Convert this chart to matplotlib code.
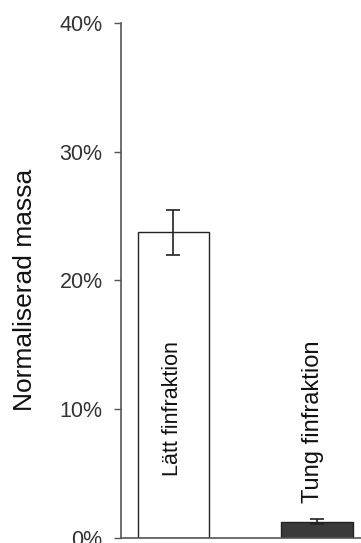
import numpy as np
import matplotlib
matplotlib.use("Agg")
import matplotlib.pyplot as plt
from matplotlib.ticker import PercentFormatter

plt.rcParams['font.family'] = ['Liberation Sans', 'DejaVu Sans']

categories = ["Lätt finfraktion", "Tung finfraktion"]
values = [23.75, 1.25]   # procent
errors = [1.75, 0.18]
yticks = [0, 10, 20, 30, 40]

fig = plt.figure(figsize=(3.61, 5.43), dpi=100)
ax = fig.add_axes([0.3343, 0.0098, 0.6657, 0.948])

x = np.arange(len(categories))
ax.bar(x, values, width=0.5, color=["white", "#3a3a3a"], edgecolor="#222222",
       linewidth=1.0)
ax.errorbar(x, values, yerr=errors, fmt="none", ecolor="#222222",
            elinewidth=1.2, capsize=5, capthick=1.2)

ax.set_xlim(-0.368, 1.307)
ax.set_ylim(0, 40)
ax.set_yticks(yticks)
ax.yaxis.set_major_formatter(PercentFormatter(decimals=0))
ax.tick_params(axis="y", direction="out", length=5, width=1, color="#555555",
               labelsize=15.5, labelcolor="#333333", pad=8)
ax.set_xticks([])

for s in ["top", "right"]:
    ax.spines[s].set_visible(False)
for s in ["left", "bottom"]:
    ax.spines[s].set_color("#555555")
    ax.spines[s].set_linewidth(1.2)

ax.text(x[0] - 0.01, 4.8, categories[0], rotation=90, ha="center", va="bottom",
        fontsize=15.5, color="#111111")
ax.text(x[1] - 0.03, 2.7, categories[1], rotation=90, ha="center", va="bottom",
        fontsize=17, color="#111111")

fig.text(0.07, 0.466, "Normaliserad massa", rotation=90, ha="center",
         va="center", fontsize=19, color="#111111")

fig.savefig("out.png", dpi=100)
